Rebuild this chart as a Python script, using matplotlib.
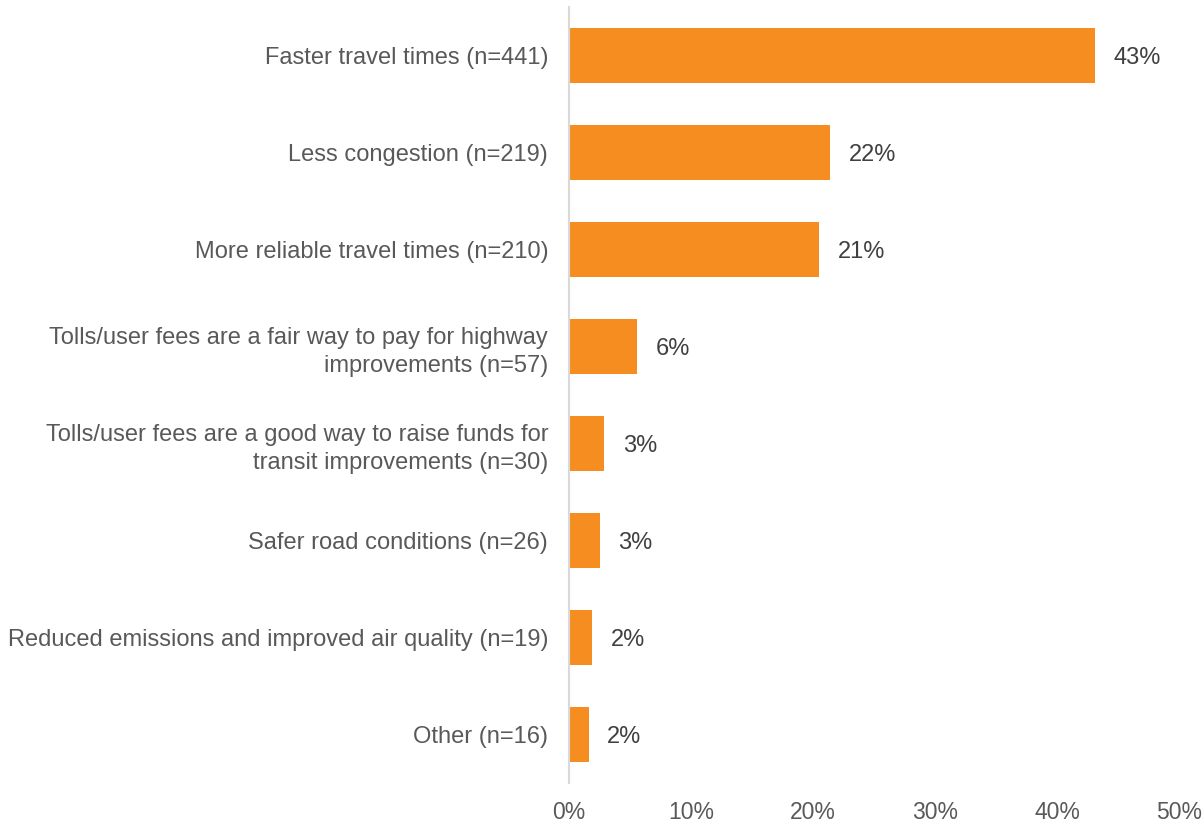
import numpy as np
from matplotlib import pyplot as plt

categories = [
    "Faster travel times (n=441)",
    "Less congestion (n=219)",
    "More reliable travel times (n=210)",
    "Tolls/user fees are a fair way to pay for highway\nimprovements (n=57)",
    "Tolls/user fees are a good way to raise funds for\ntransit improvements (n=30)",
    "Safer road conditions (n=26)",
    "Reduced emissions and improved air quality (n=19)",
    "Other (n=16)",
]
values = [43.1, 21.4, 20.5, 5.6, 2.9, 2.5, 1.9, 1.6]
value_labels = ["43%", "22%", "21%", "6%", "3%", "3%", "2%", "2%"]
ticks = [0, 10, 20, 30, 40, 50]

plt.rcParams['font.family'] = ['Liberation Sans', 'DejaVu Sans']

fig = plt.figure(figsize=(12.02, 8.23), dpi=100)
ax = fig.add_axes([569 / 1202, 1 - 783 / 823, (1179 - 569) / 1202, 776 / 823])

y = np.arange(len(categories))
ax.barh(y, values, height=0.57, color="#F58D21", zorder=2)
for yi, v, lab in zip(y, values, value_labels):
    ax.text(v + 1.5, yi + 0.03, lab, va="center", ha="left", fontsize=17, color="#404040")

ax.set_ylim(len(categories) - 0.5, -0.5)
ax.set_xlim(0, 50)
ax.set_yticks(y)
ax.set_yticklabels(categories, fontsize=17, color="#595959", linespacing=1.35)
ax.set_xticks(ticks)
ax.set_xticklabels([f"{t}%" for t in ticks], fontsize=16.5, color="#595959")
ax.tick_params(axis="y", length=0, pad=15)
ax.tick_params(axis="x", length=0, pad=13)

for s in ["top", "right", "bottom"]:
    ax.spines[s].set_visible(False)
ax.spines["left"].set_color("#D9D9D9")
ax.spines["left"].set_linewidth(1.5)

fig.savefig("out.png", dpi=100)
